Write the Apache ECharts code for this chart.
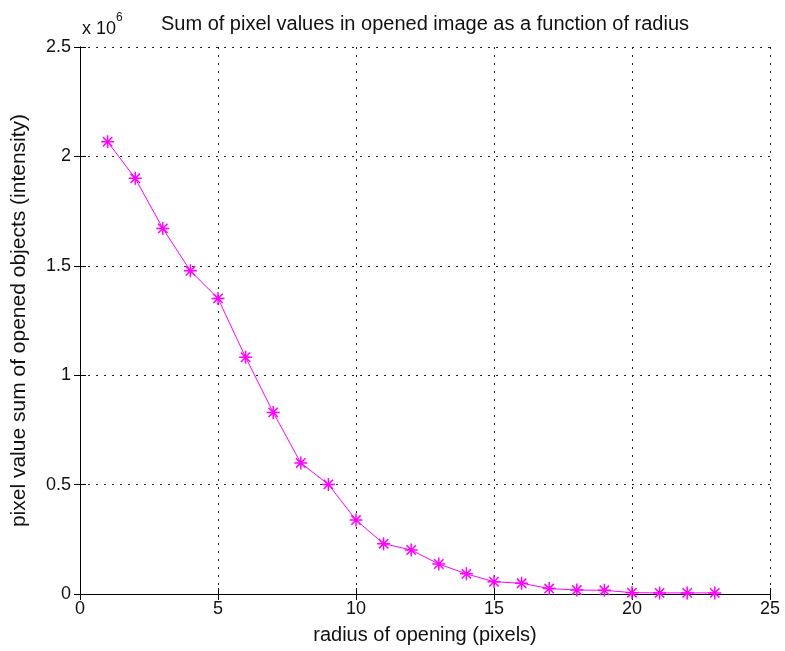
<!DOCTYPE html>
<html>
<head>
<meta charset="utf-8">
<script src="https://cdn.jsdelivr.net/npm/echarts@6/dist/echarts.min.js"></script>
<style>
  html, body { margin: 0; padding: 0; background: #fff; }
  #chart { width: 785px; height: 651px; }
</style>
</head>
<body>
<div id="chart"></div>
<script>
// Opening radius (pixels)
const radius = [1, 2, 3, 4, 5, 6, 7, 8, 9, 10, 11, 12, 13, 14, 15, 16, 17, 18, 19, 20, 21, 22, 23];
// Sum of pixel values of the opened objects
const pixelSum = [2067000, 1900000, 1671000, 1477000, 1351000, 1082000, 830000, 599000, 501000, 338000,
                  230000, 201000, 137000, 92000, 56000, 49000, 25000, 18000, 17000, 6000,
                  5000, 5000, 5000];
const yTicks = ['0', '0.5', '1', '1.5', '2', '2.5'];
const xTicks = ['0', '5', '10', '15', '20', '25'];

const FONT = 'Liberation Sans';
const chart = echarts.init(document.getElementById('chart'), null, { renderer: 'canvas' });

// six-armed asterisk marker, stroked
const asterisk = 'path://M0,-5L0,5M-5,0L5,0M-3.6,-3.6L3.6,3.6M-3.6,3.6L3.6,-3.6';

const gridStyle = { show: true, lineStyle: { color: '#222', width: 1, type: [2, 6] } };
const axisLine = { show: true, lineStyle: { color: '#000', width: 1 } };
const tick = { show: true, inside: true, length: 6, lineStyle: { color: '#000' } };
const labelStyle = { color: '#111', fontFamily: FONT, fontSize: 18 };
const nameStyle = { color: '#111', fontFamily: FONT, fontSize: 20 };

chart.setOption({
  animation: false,
  backgroundColor: '#fff',
  grid: { left: 80, right: 15, top: 47, bottom: 57 },
  xAxis: [
    {
      type: 'value', min: 0, max: 25, interval: 5,
      axisLine, axisTick: tick, splitLine: gridStyle,
      axisLabel: Object.assign({}, labelStyle, { margin: 6,
        formatter: v => xTicks[Math.round(v / 5)] }),
      name: 'radius of opening (pixels)', nameLocation: 'middle', nameGap: 31,
      nameTextStyle: nameStyle
    },
    {
      type: 'value', min: 0, max: 25, interval: 5, position: 'top',
      axisLine, axisTick: tick, axisLabel: { show: false }, splitLine: { show: false }
    }
  ],
  yAxis: [
    {
      type: 'value', min: 0, max: 2500000, interval: 500000,
      axisLine, axisTick: tick, splitLine: gridStyle,
      axisLabel: Object.assign({}, labelStyle, { margin: 9,
        formatter: v => yTicks[Math.round(v / 500000)] }),
      name: 'pixel value sum of opened objects (intensity)', nameLocation: 'middle', nameGap: 50,
      nameTextStyle: Object.assign({}, nameStyle, { fontSize: 21 })
    },
    {
      type: 'value', min: 0, max: 2500000, interval: 500000, position: 'right',
      axisLine, axisTick: tick, axisLabel: { show: false }, splitLine: { show: false }
    }
  ],
  graphic: [
    {
      type: 'text', x: 425, y: 14,
      style: {
        text: 'Sum of pixel values in opened image as a function of radius',
        fill: '#111', font: '20px "' + FONT + '"', textAlign: 'center'
      }
    },
    {
      type: 'text', x: 82, y: 12,
      style: {
        text: '{b|x 10}{s|6}',
        rich: {
          b: { fill: '#111', fontFamily: FONT, fontSize: 18, padding: [8, 0, 0, 0] },
          s: { fill: '#111', fontFamily: FONT, fontSize: 12, verticalAlign: 'top' }
        }
      }
    }
  ],
  series: [{
    type: 'line',
    data: radius.map((r, i) => [r, pixelSum[i]]),
    symbol: asterisk, symbolSize: 13, showAllSymbol: true,
    lineStyle: { color: '#ff00ff', width: 1 },
    itemStyle: { color: '#ff00ff', borderColor: '#ff00ff', borderWidth: 1.5 }
  }]
});
</script>
</body>
</html>
